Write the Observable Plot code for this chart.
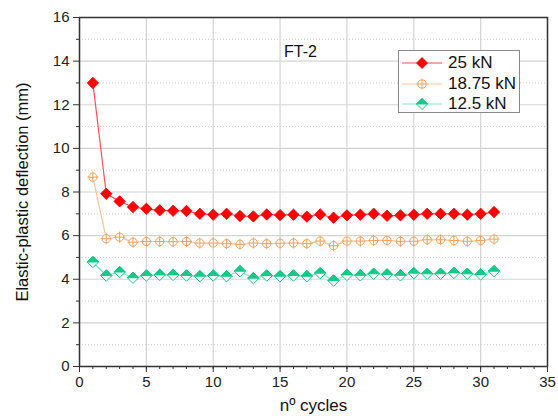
<!DOCTYPE html>
<html>
<head>
<meta charset="utf-8">
<script src="https://cdn.jsdelivr.net/npm/d3@7"></script>
<script src="https://cdn.jsdelivr.net/npm/@observablehq/plot@0.6"></script>
<style>
  body { margin: 0; background: #fff; }
  #wrap { position: relative; width: 558px; height: 419px; font-family: "Liberation Sans", Arial, sans-serif; }
  #legend { position: absolute; left: 398px; top: 50px; width: 122px; height: 63px; border: 1px solid #888; background: #fff; box-sizing: border-box; }
  .item { position: absolute; left: 3px; height: 20px; display: flex; align-items: center; font-size: 17px; color: #111; }
  .item svg { margin-right: 6px; }
</style>
</head>
<body>
<div id="wrap"></div>
<script>
const cycles = [1,2,3,4,5,6,7,8,9,10,11,12,13,14,15,16,17,18,19,20,21,22,23,24,25,26,27,28,29,30,31];
const load25 = [13.0,7.92,7.57,7.31,7.23,7.16,7.14,7.13,7.0,6.96,7.0,6.9,6.88,6.97,6.94,6.96,6.87,6.97,6.82,6.93,6.96,7.0,6.91,6.93,6.96,7.0,7.0,7.0,6.96,7.0,7.08];
const load1875 = [8.68,5.86,5.93,5.7,5.73,5.73,5.72,5.73,5.66,5.66,5.63,5.6,5.66,5.63,5.65,5.66,5.63,5.75,5.54,5.75,5.75,5.78,5.78,5.74,5.74,5.81,5.81,5.78,5.74,5.78,5.84];
const load125 = [4.79,4.17,4.33,4.07,4.17,4.2,4.2,4.17,4.14,4.17,4.14,4.37,4.05,4.17,4.14,4.17,4.14,4.28,3.94,4.2,4.18,4.25,4.22,4.18,4.28,4.25,4.25,4.29,4.25,4.22,4.37];
const seriesNames = ["25 kN", "18.75 kN", "12.5 kN"];
const xTicks = [0,5,10,15,20,25,30,35];
const xMinor = d3.range(0, 36, 1);
const yTicks = [0,2,4,6,8,10,12,14,16];
const yMinor = [1,3,5,7,9,11,13,15];
const xLabel = "nº cycles";
const yLabel = "Elastic-plastic deflection (mm)";
const title = "FT-2";

const d25 = cycles.map((c, i) => ({x: c, y: load25[i]}));
const d1875 = cycles.map((c, i) => ({x: c, y: load1875[i]}));
const d125 = cycles.map((c, i) => ({x: c, y: load125[i]}));

// custom symbols (r = plot radius)
const diamondFill = {draw(ctx, size) { const r = Math.sqrt(size / Math.PI); ctx.moveTo(0, -r); ctx.lineTo(r, 0); ctx.lineTo(0, r); ctx.lineTo(-r, 0); ctx.closePath(); }};
const circlePlus = {draw(ctx, size) { const r = Math.sqrt(size / Math.PI); const c = r * 0.75;
  ctx.moveTo(c, 0); ctx.arc(0, 0, c, 0, 2 * Math.PI);
  ctx.moveTo(-r, 0); ctx.lineTo(r, 0); ctx.moveTo(0, -r); ctx.lineTo(0, r); }};
const topHalf = {draw(ctx, size) { const r = Math.sqrt(size / Math.PI); ctx.moveTo(0, -r); ctx.lineTo(r, 0); ctx.lineTo(-r, 0); ctx.closePath(); }};

const RED = "#ff0000", RED_L = "#ff5050";
const ORA = "#f5a05c", ORA_L = "#f9c49a";
const GRN = "#14c987", GRN_L = "#7ee8c4";

const chart = Plot.plot({
  width: 558, height: 419,
  marginLeft: 79, marginRight: 11, marginTop: 17, marginBottom: 53,
  x: {domain: [0, 35]},
  y: {domain: [0, 16]},
  style: {fontFamily: "'Liberation Sans', Arial, sans-serif", fontSize: "15px", color: "#222"},
  marks: [
    Plot.gridY(yMinor, {stroke: "#ccc", strokeOpacity: 1, strokeDasharray: "1,2", strokeWidth: 1}),
    Plot.gridY(yTicks, {stroke: "#d4d4d4", strokeOpacity: 1, strokeWidth: 1.2}),
    Plot.gridX(xTicks, {stroke: "#d4d4d4", strokeOpacity: 1, strokeWidth: 1.2}),
    Plot.axisY(yTicks, {tickSize: 6, tickPadding: 4, label: null, fontSize: 15, stroke: "#333"}),
    Plot.axisY(yMinor, {tickSize: 3, text: null, label: null, stroke: "#333"}),
    Plot.axisX(xTicks, {tickSize: 6, tickPadding: 4, label: null, fontSize: 15, stroke: "#333"}),
    Plot.axisX(xMinor, {tickSize: 3, text: null, label: null, stroke: "#333"}),
    Plot.line(d25, {x: "x", y: "y", stroke: RED_L, strokeWidth: 1.2}),
    Plot.line(d1875, {x: "x", y: "y", stroke: ORA_L, strokeWidth: 1.2}),
    Plot.line(d125, {x: "x", y: "y", stroke: GRN_L, strokeWidth: 1.2}),
    Plot.dot(d25, {x: "x", y: "y", symbol: diamondFill, r: 5.7, fill: RED, stroke: RED, strokeWidth: 0.8}),
    Plot.dot(d1875, {x: "x", y: "y", symbol: diamondFill, r: 5.5, fill: "white", stroke: "none"}),
    Plot.dot(d1875, {x: "x", y: "y", symbol: circlePlus, r: 5.5, fill: "none", stroke: ORA, strokeWidth: 1}),
    Plot.dot(d125, {x: "x", y: "y", symbol: diamondFill, r: 5.7, fill: "white", stroke: GRN, strokeWidth: 1}),
    Plot.dot(d125, {x: "x", y: "y", symbol: topHalf, r: 5.7, fill: GRN, stroke: GRN, strokeWidth: 1}),
    Plot.frame({stroke: "#333", strokeWidth: 1.5}),
    Plot.text([title], {frameAnchor: "top", dx: -13, dy: 28, fontSize: 16, fill: "#111"}),
    Plot.text([xLabel], {frameAnchor: "bottom", dy: 44, fontSize: 17, fill: "#111"}),
    Plot.text([yLabel], {frameAnchor: "left", textAnchor: "middle", dx: -57, rotate: -90, fontSize: 16.5, fill: "#111"})
  ]
});
const wrap = document.getElementById("wrap");
wrap.appendChild(chart);

// legend
const legend = document.createElement("div");
legend.id = "legend";
const colors = [[RED, RED_L, "fill"], [ORA, ORA_L, "plus"], [GRN, GRN_L, "half"]];
seriesNames.forEach((name, i) => {
  const [c, cl, kind] = colors[i];
  const item = document.createElement("div");
  item.className = "item";
  item.style.top = (2 + i * 20.5) + "px";
  let marker;
  if (kind === "fill") marker = `<path d="M20,-5.5L25.5,0L20,5.5L14.5,0Z" fill="${c}" stroke="${c}" stroke-width="0.8"/>`;
  else if (kind === "plus") marker = `<circle cx="20" cy="0" r="4.1" fill="white" stroke="${c}"/><path d="M14.5,0H25.5M20,-5.5V5.5" stroke="${c}"/>`;
  else marker = `<path d="M20,-5.5L25.5,0L20,5.5L14.5,0Z" fill="white" stroke="${c}"/><path d="M20,-5.5L25.5,0L14.5,0Z" fill="${c}" stroke="${c}"/>`;
  item.innerHTML = `<svg width="40" height="14" viewBox="0 -7 40 14"><line x1="0" x2="40" y1="0" y2="0" stroke="${cl}" stroke-width="1.2"/>${marker}</svg><span>${name}</span>`;
  legend.appendChild(item);
});
wrap.appendChild(legend);
</script>
</body>
</html>
